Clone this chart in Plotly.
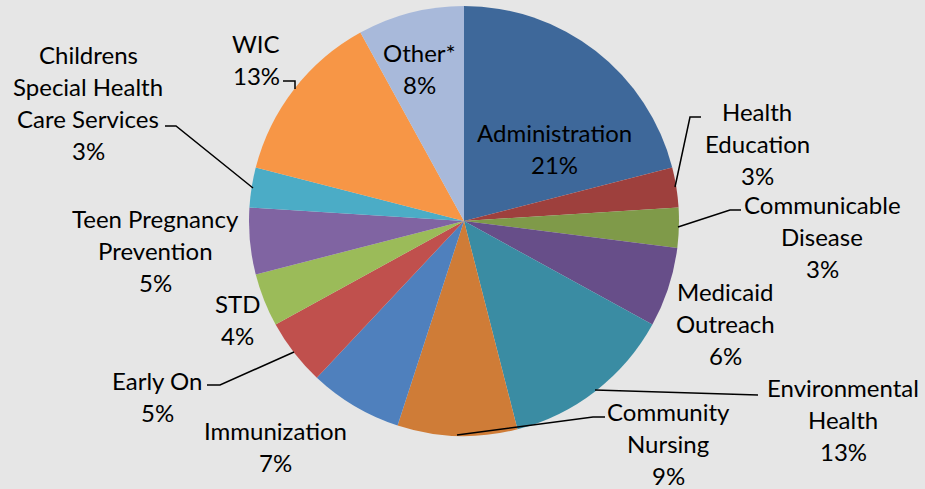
import plotly.graph_objects as go

W, H = 925, 489

categories = ["Administration", "Health Education", "Communicable Disease", "Medicaid Outreach",
              "Environmental Health", "Community Nursing", "Immunization", "Early On", "STD",
              "Teen Pregnancy Prevention", "Childrens Special Health Care Services", "WIC", "Other*"]
values = [21, 3, 3, 6, 13, 9, 7, 5, 4, 5, 3, 13, 8]
colors = ["#3E689A", "#9E403D", "#7F9A49", "#674E89", "#3A8CA3", "#CF7C37", "#4F80BD",
          "#C0504D", "#9BBB59", "#8064A2", "#4BACC6", "#F79646", "#A8B9DA"]

# label text split into lines (as shown in the chart)
label_lines = [
    ["Administration"], ["Health", "Education"], ["Communicable", "Disease"], ["Medicaid", "Outreach"],
    ["Environmental", "Health"], ["Community", "Nursing"], ["Immunization"], ["Early On"], ["STD"],
    ["Teen Pregnancy", "Prevention"], ["Childrens", "Special Health", "Care Services"], ["WIC"], ["Other*"],
]

# label block centers (pixels) - layout styling
label_pos = [(554, 148), (757, 143), (822, 236), (725, 323), (843, 419), (668, 443), (275, 446),
             (157, 396), (237, 319), (155, 250), (88, 102), (256, 59), (419, 68)]

# leader lines (pixels) - layout styling
leaders = [
    [(283, 81), (295, 81), (295, 89)],
    [(165, 126), (176, 126), (253, 188)],
    [(207, 385), (220, 385), (294, 352)],
    [(457, 435), (593, 417), (605, 417)],
    [(595, 390), (758, 395)],
    [(678, 227), (730, 210), (741, 210)],
    [(675, 187), (690, 117), (701, 117)],
]

cx, cy, r = 464, 221, 215
LINE_H = 32
FONT = "Lato"
FS = 24

fig = go.Figure(go.Pie(
    labels=categories, values=values, sort=False, direction="clockwise", rotation=0,
    marker=dict(colors=colors, line=dict(width=0)),
    textinfo="none", hoverinfo="label+percent", showlegend=False,
    domain=dict(x=[(cx - r) / W, (cx + r) / W], y=[(H - cy - r) / H, (H - cy + r) / H]),
))

annotations = []
for lines, v, (px, py) in zip(label_lines, values, label_pos):
    all_lines = lines + [f"{v}%"]
    n = len(all_lines)
    for i, t in enumerate(all_lines):
        yy = py + (i - (n - 1) / 2) * LINE_H
        annotations.append(dict(x=px / W, y=1 - yy / H, xref="paper", yref="paper", text=t,
                                showarrow=False, xanchor="center", yanchor="middle",
                                font=dict(family=FONT, size=FS, color="#000000")))

shapes = []
for pts in leaders:
    path = "M " + " L ".join(f"{x / W},{1 - y / H}" for x, y in pts)
    shapes.append(dict(type="path", path=path, xref="paper", yref="paper",
                       line=dict(color="#000000", width=1.5)))

fig.update_layout(
    width=W, height=H, margin=dict(l=0, r=0, t=0, b=0),
    paper_bgcolor="#e6e6e6", plot_bgcolor="#e6e6e6",
    annotations=annotations, shapes=shapes,
)

fig.write_html("out.html", config={"displayModeBar": False},
               post_script="document.body.style.margin='0';document.body.style.overflow='hidden';document.body.style.background='#e6e6e6';")
